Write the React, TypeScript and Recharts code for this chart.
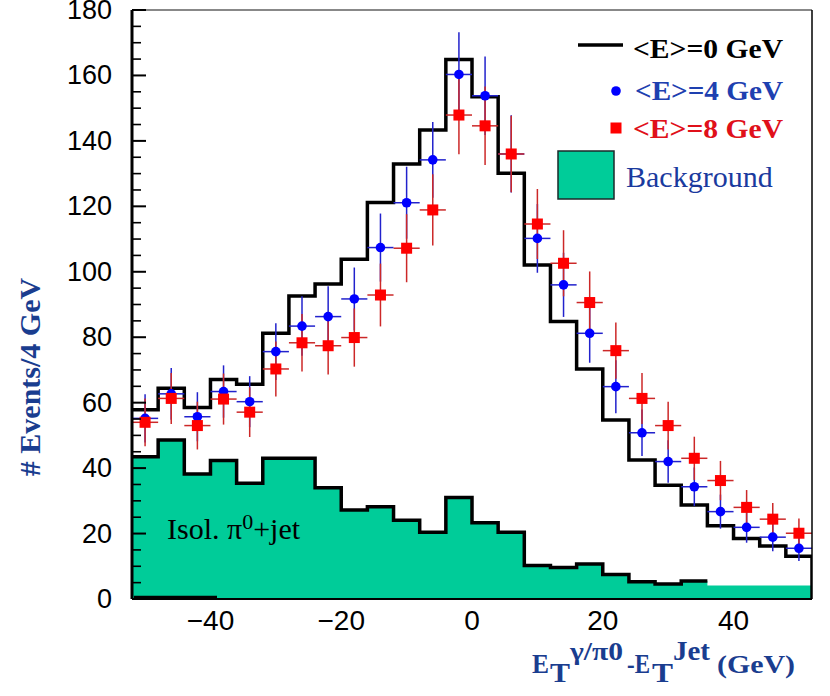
import React from 'react';
import { ComposedChart, Line, Area, Scatter, ErrorBar, XAxis, YAxis, ReferenceLine } from 'recharts';

// ---- data ----
const binEdges = [-52, -48, -44, -40, -36, -32, -28, -24, -20, -16, -12, -8, -4, 0, 4, 8, 12, 16, 20, 24, 28, 32, 36, 40, 44, 48, 52];
const binCenters = [-50, -46, -42, -38, -34, -30, -26, -22, -18, -14, -10, -6, -2, 2, 6, 10, 14, 18, 22, 26, 30, 34, 38, 42, 46, 50];

// <E>=0 GeV histogram (black line)
const histE0 = [57.8, 64.4, 58.5, 67.1, 65.6, 81.2, 92.6, 96.3, 103.8, 121.2, 132.9, 143.3, 164.9, 153.5, 130.1, 102.1, 84.8, 70.3, 54.7, 42.5, 34.8, 28.7, 22.4, 18.5, 16.2, 13.1];

// Background (isolated pi0 + jet)
const background = [43.5, 48.6, 38.2, 42.3, 35.4, 43.0, 43.0, 34.0, 27.2, 28.2, 24.1, 20.4, 31.0, 23.3, 20.4, 10.2, 9.6, 10.7, 7.5, 5.3, 4.6, 5.5, 4.1, 4.1, 4.1, 4.1];
const backgroundOutlineBins = 22; // outline drawn for the first 22 bins only

// <E>=4 GeV points
const e4Values = [55.2, 62.7, 55.7, 63.4, 60.3, 75.6, 83.4, 86.3, 91.7, 107.4, 121.1, 134.2, 160.3, 153.8, 136.0, 110.2, 96.0, 81.2, 64.9, 50.8, 42.0, 34.3, 26.7, 21.9, 18.9, 15.5];
const e4Errors = [7.4, 7.9, 7.5, 8.0, 7.8, 8.7, 9.1, 9.3, 9.6, 10.4, 11.0, 11.6, 12.9, 12.0, 11.8, 10.5, 9.8, 9.0, 8.1, 7.1, 6.5, 5.9, 5.2, 4.7, 4.3, 3.9];

// <E>=8 GeV points
const e8Values = [54.0, 61.3, 53.0, 61.1, 57.1, 70.3, 78.3, 77.4, 79.9, 92.9, 107.2, 118.9, 147.9, 144.6, 136.0, 114.6, 102.6, 90.6, 75.9, 61.3, 53.0, 43.0, 36.2, 28.0, 24.4, 20.1];
const e8Errors = [7.3, 7.8, 7.3, 7.8, 7.6, 8.4, 8.8, 8.8, 8.9, 9.6, 10.4, 10.9, 12.0, 12.0, 11.7, 10.7, 10.1, 9.5, 8.6, 7.8, 7.3, 6.6, 6.0, 5.3, 4.9, 4.5];
const halfBin = [2, 2, 2, 2, 2, 2, 2, 2, 2, 2, 2, 2, 2, 2, 2, 2, 2, 2, 2, 2, 2, 2, 2, 2, 2, 2];

const yTicks = [0, 5, 10, 15, 20, 25, 30, 35, 40, 45, 50, 55, 60, 65, 70, 75, 80, 85, 90, 95, 100, 105, 110, 115, 120, 125, 130, 135, 140, 145, 150, 155, 160, 165, 170, 175, 180];
const yLabelTicks = [0, 20, 40, 60, 80, 100, 120, 140, 160, 180];
const xTickLabels = [-40, -20, 0, 20, 40];

// ---- derived tables ----
const nBins = histE0.length;
const xMin = binEdges[0];
const xMax = binEdges[binEdges.length - 1];
const histData = binEdges.map((x, i) => ({ x, v: histE0[Math.min(i, nBins - 1)] }));
histData.push({ x: xMax, v: 0 });

const bgData = binEdges.map((x, i) => ({ x, v: background[Math.min(i, nBins - 1)] }));
const bgOutline = binEdges
  .slice(0, backgroundOutlineBins + 1)
  .map((x, i) => ({ x, v: background[Math.min(i, backgroundOutlineBins - 1)] }));

const e4Data = binCenters.map((x, i) => ({ x, y: e4Values[i], ey: e4Errors[i], ex: halfBin[i] }));
const e8Data = binCenters.map((x, i) => ({ x, y: e8Values[i], ey: e8Errors[i], ex: halfBin[i] }));

const GREEN = '#00cc99';
const TITLE_BLUE = '#1a3d8f';
const SANS = '"Liberation Sans", Arial, sans-serif';
const SERIF = '"Liberation Serif", "Times New Roman", serif';
const Y_TICK_MARGIN = 20;

// label at x; tick marks drawn inward from the axis (x + margin)
const YTick = (props: any) => {
  const { x, y, payload } = props;
  const v = payload.value;
  const major = yLabelTicks.includes(v);
  const ax = x + Y_TICK_MARGIN;
  return (
    <g>
      <rect x={ax} y={y - (major ? 1 : 0.8)} width={major ? 14 : 9} height={major ? 2 : 1.6} fill="#000" />
      {major && (
        <text x={x} y={y} textAnchor="end" dominantBaseline="central" fontFamily={SANS} fontSize={27} fill="#000">
          {v}
        </text>
      )}
    </g>
  );
};

const XTick = (props: any) => {
  const { x, y, payload } = props;
  const v = payload.value;
  const label = v < 0 ? '\u2212' + Math.abs(v) : String(v);
  return (
    <text x={x} y={y + 21} textAnchor="middle" dominantBaseline="central" fontFamily={SANS} fontSize={28} fill="#000">
      {label}
    </text>
  );
};

const Circle = (props: any) => {
  const { cx, cy } = props;
  if (cx == null || cy == null) return null;
  return <circle cx={cx} cy={cy} r={4.8} fill="#0000ff" />;
};

const Square = (props: any) => {
  const { cx, cy } = props;
  if (cx == null || cy == null) return null;
  return <rect x={cx - 5.5} y={cy - 5.5} width={11} height={11} fill="#ff0000" />;
};

export default function App() {
  return (
    <div style={{ position: 'absolute', left: 0, top: 0, width: 830, height: 696, background: '#fff' }}>
      <ComposedChart width={830} height={696} margin={{ top: 10, right: 18, bottom: 57, left: 72 }}>
        <Area
          data={bgData}
          dataKey="v"
          type="stepAfter"
          stroke="none"
          fill={GREEN}
          fillOpacity={1}
          dot={false}
          activeDot={false}
          isAnimationActive={false}
        />
        <Line
          data={bgOutline}
          dataKey="v"
          type="stepAfter"
          stroke="#000"
          strokeWidth={3.5}
          dot={false}
          activeDot={false}
          isAnimationActive={false}
        />
        <Line
          data={histData}
          dataKey="v"
          type="stepAfter"
          stroke="#000"
          strokeWidth={3.5}
          dot={false}
          activeDot={false}
          isAnimationActive={false}
        />
        <Scatter data={e4Data} dataKey="y" shape={<Circle />} isAnimationActive={false}>
          <ErrorBar dataKey="ey" direction="y" width={0} stroke="#2222cc" strokeWidth={1.5} />
          <ErrorBar dataKey="ex" direction="x" width={0} stroke="#2222cc" strokeWidth={1.5} />
        </Scatter>
        <Scatter data={e8Data} dataKey="y" shape={<Square />} isAnimationActive={false}>
          <ErrorBar dataKey="ey" direction="y" width={0} stroke="#cc2828" strokeWidth={1.5} />
          <ErrorBar dataKey="ex" direction="x" width={0} stroke="#cc2828" strokeWidth={1.5} />
        </Scatter>
        <ReferenceLine y={180} stroke="#888" strokeWidth={2} />
        <ReferenceLine x={xMax} stroke="#000" strokeWidth={1.5} />
        <ReferenceLine segment={[{ x: -51.7, y: 0.5 }, { x: -39, y: 0.5 }]} stroke="#000" strokeWidth={3} />
        <XAxis
          dataKey="x"
          type="number"
          domain={[xMin, xMax]}
          allowDataOverflow
          ticks={xTickLabels}
          interval={0}
          tickLine={false}
          tickSize={0}
          tickMargin={0}
          tick={<XTick />}
          axisLine={{ stroke: '#000', strokeWidth: 2 }}
          height={40}
        />
        <YAxis
          type="number"
          domain={[0, 180]}
          allowDataOverflow
          ticks={yTicks}
          interval={0}
          tickLine={false}
          tickSize={0}
          tickMargin={Y_TICK_MARGIN}
          tick={<YTick />}
          axisLine={{ stroke: '#000', strokeWidth: 3 }}
          width={60}
        />
      </ComposedChart>
      <svg width={830} height={696} style={{ position: 'absolute', left: 0, top: 0, pointerEvents: 'none' }}>
        {/* y title */}
        <text
          transform="translate(39.5,377) rotate(-90)"
          textAnchor="middle"
          fontFamily={SERIF}
          fontWeight="bold"
          fontSize={30}
          fill={TITLE_BLUE}
        >
          # Events/4 GeV
        </text>
        {/* x title */}
        <g fontFamily={SERIF} fontWeight="bold" fill={TITLE_BLUE}>
          <text x={532} y={673} fontSize={27} textLength={17} lengthAdjust="spacingAndGlyphs">E</text>
          <text x={550} y={682} fontSize={27} textLength={20} lengthAdjust="spacingAndGlyphs">T</text>
          <text x={570} y={660} fontSize={25} textLength={53} lengthAdjust="spacingAndGlyphs">γ/π0</text>
          <text x={627} y={673} fontSize={27} textLength={23} lengthAdjust="spacingAndGlyphs">-E</text>
          <text x={652} y={682} fontSize={27} textLength={21} lengthAdjust="spacingAndGlyphs">T</text>
          <text x={673} y={660} fontSize={27} textLength={37} lengthAdjust="spacingAndGlyphs">Jet</text>
          <text x={717} y={673} fontSize={25} textLength={78} lengthAdjust="spacingAndGlyphs">(GeV)</text>
        </g>
        {/* annotation */}
        <text fontFamily={SERIF} fill="#000" fontSize={30}>
          <tspan x={167} y={539}>Isol. π</tspan>
          <tspan dy={-10} fontSize={22}>0</tspan>
          <tspan dy={10} fontSize={30}>+jet</tspan>
        </text>
        {/* legend */}
        <line x1={578} y1={45} x2={623} y2={45} stroke="#000" strokeWidth={3.5} />
        <text x={633} y={58} fontFamily={SERIF} fontWeight="bold" fontSize={28} fill="#000" textLength={150} lengthAdjust="spacingAndGlyphs">
          {'<E>=0 GeV'}
        </text>
        <circle cx={616} cy={91} r={4.8} fill="#0000ff" />
        <text x={635} y={100} fontFamily={SERIF} fontWeight="bold" fontSize={28} fill="#1e40b0" textLength={148} lengthAdjust="spacingAndGlyphs">
          {'<E>=4 GeV'}
        </text>
        <rect x={610.5} y={122.5} width={11} height={11} fill="#ff0000" />
        <text x={633} y={138} fontFamily={SERIF} fontWeight="bold" fontSize={28} fill="#e0101a" textLength={150} lengthAdjust="spacingAndGlyphs">
          {'<E>=8 GeV'}
        </text>
        <rect x={558} y={151} width={56} height={48} fill={GREEN} stroke="#1a2a2a" strokeWidth={1.5} />
        <text x={626} y={187} fontFamily={SERIF} fontSize={30} fill="#1a3a9e">
          Background
        </text>
      </svg>
    </div>
  );
}
